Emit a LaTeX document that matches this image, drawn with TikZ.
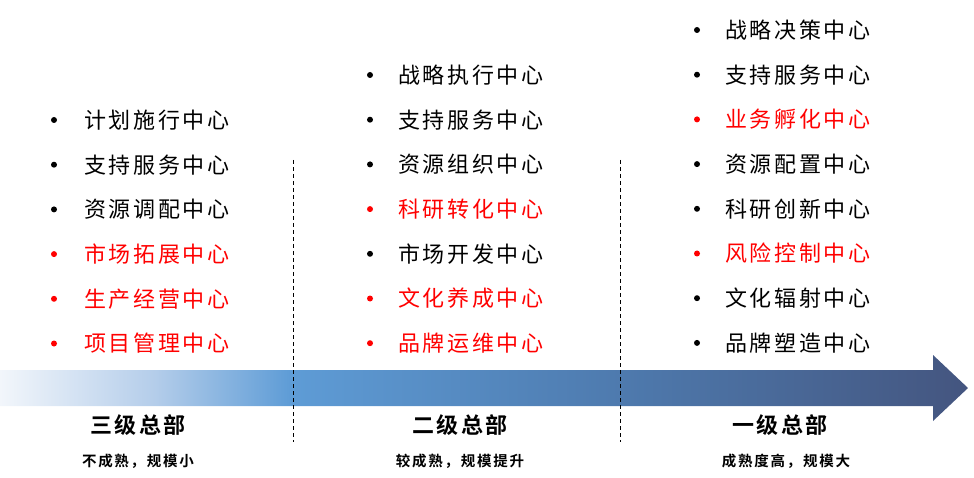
\documentclass[tikz,border=0pt]{standalone}
\usepackage{fontspec}
\newfontfamily\cjk[LetterSpace=12,BoldFont={Noto Sans CJK SC Bold}]{Noto Sans CJK SC}
\definecolor{cA}{HTML}{F2F6FB}
\definecolor{cB}{HTML}{B4CDEA}
\definecolor{cC}{HTML}{5E9CD6}
\definecolor{cD}{HTML}{4E7AAE}
\definecolor{cE}{HTML}{44557F}
\definecolor{hot}{HTML}{FF0000}
\pgfdeclarehorizontalshading{arrowshade}{100bp}{color(0bp)=(cA); color(25bp)=(cA); color(33bp)=(cB); color(40bp)=(cC); color(57bp)=(cD); color(75bp)=(cE); color(100bp)=(cE)}
\tikzset{
  item/.style={anchor=west, inner sep=0pt, font=\cjk\fontsize{22}{22}\selectfont},
  dot/.style={circle, fill, inner sep=0pt, minimum size=6pt},
  title/.style={inner sep=0pt, font=\cjk\bfseries\fontsize{22}{22}\selectfont},
  sub/.style={inner sep=0pt, font=\cjk\bfseries\fontsize{14.5}{14.5}\selectfont},
  divider/.style={thin, dash pattern=on 4pt off 3pt}
}
\begin{document}
\begin{tikzpicture}[x=1pt,y=-1pt]
\useasboundingbox (0,0) rectangle (974,478);
% arrow
\path[shading=arrowshade] (0,370) -- (933,370) -- (933,355) -- (968,388) -- (933,421) -- (933,406) -- (0,406) -- cycle;
% dividers
\coordinate (d1t) at (293,160); \coordinate (d1b) at (293,442);
\coordinate (d2t) at (620,160); \coordinate (d2b) at (620,442);
\draw[divider] (d1t) -- (d1b);
\draw[divider] (d2t) -- (d2b);
% column 1
\foreach \t/\c [count=\i] in {计划施行中心/black,支持服务中心/black,资源调配中心/black,市场拓展中心/hot,生产经营中心/hot,项目管理中心/hot}{
  \pgfmathsetmacro{\yy}{120+(\i-1)*44.7}
  \node[dot, fill=\c] (a\i b) at (54,\yy) {};
  \node[item, text=\c] (a\i) at (84,\yy) {\t};
}
% column 2
\foreach \t/\c [count=\i] in {战略执行中心/black,支持服务中心/black,资源组织中心/black,科研转化中心/hot,市场开发中心/black,文化养成中心/hot,品牌运维中心/hot}{
  \pgfmathsetmacro{\yy}{75+(\i-1)*44.7}
  \node[dot, fill=\c] (b\i b) at (370,\yy) {};
  \node[item, text=\c] (b\i) at (398,\yy) {\t};
}
% column 3
\foreach \t/\c [count=\i] in {战略决策中心/black,支持服务中心/black,业务孵化中心/hot,资源配置中心/black,科研创新中心/black,风险控制中心/hot,文化辐射中心/black,品牌塑造中心/black}{
  \pgfmathsetmacro{\yy}{30+(\i-1)*44.7}
  \node[dot, fill=\c] (c\i b) at (697,\yy) {};
  \node[item, text=\c] (c\i) at (725,\yy) {\t};
}
% titles
\node[title] (t3) at (138,425) {三级总部};
\node[title] (t2) at (460,425) {二级总部};
\node[title] (t1) at (780,425) {一级总部};
\node[sub] (s3) at (138,461) {不成熟，规模小};
\node[sub] (s2) at (460,461) {较成熟，规模提升};
\node[sub] (s1) at (786,461) {成熟度高，规模大};
\end{tikzpicture}
\end{document}
